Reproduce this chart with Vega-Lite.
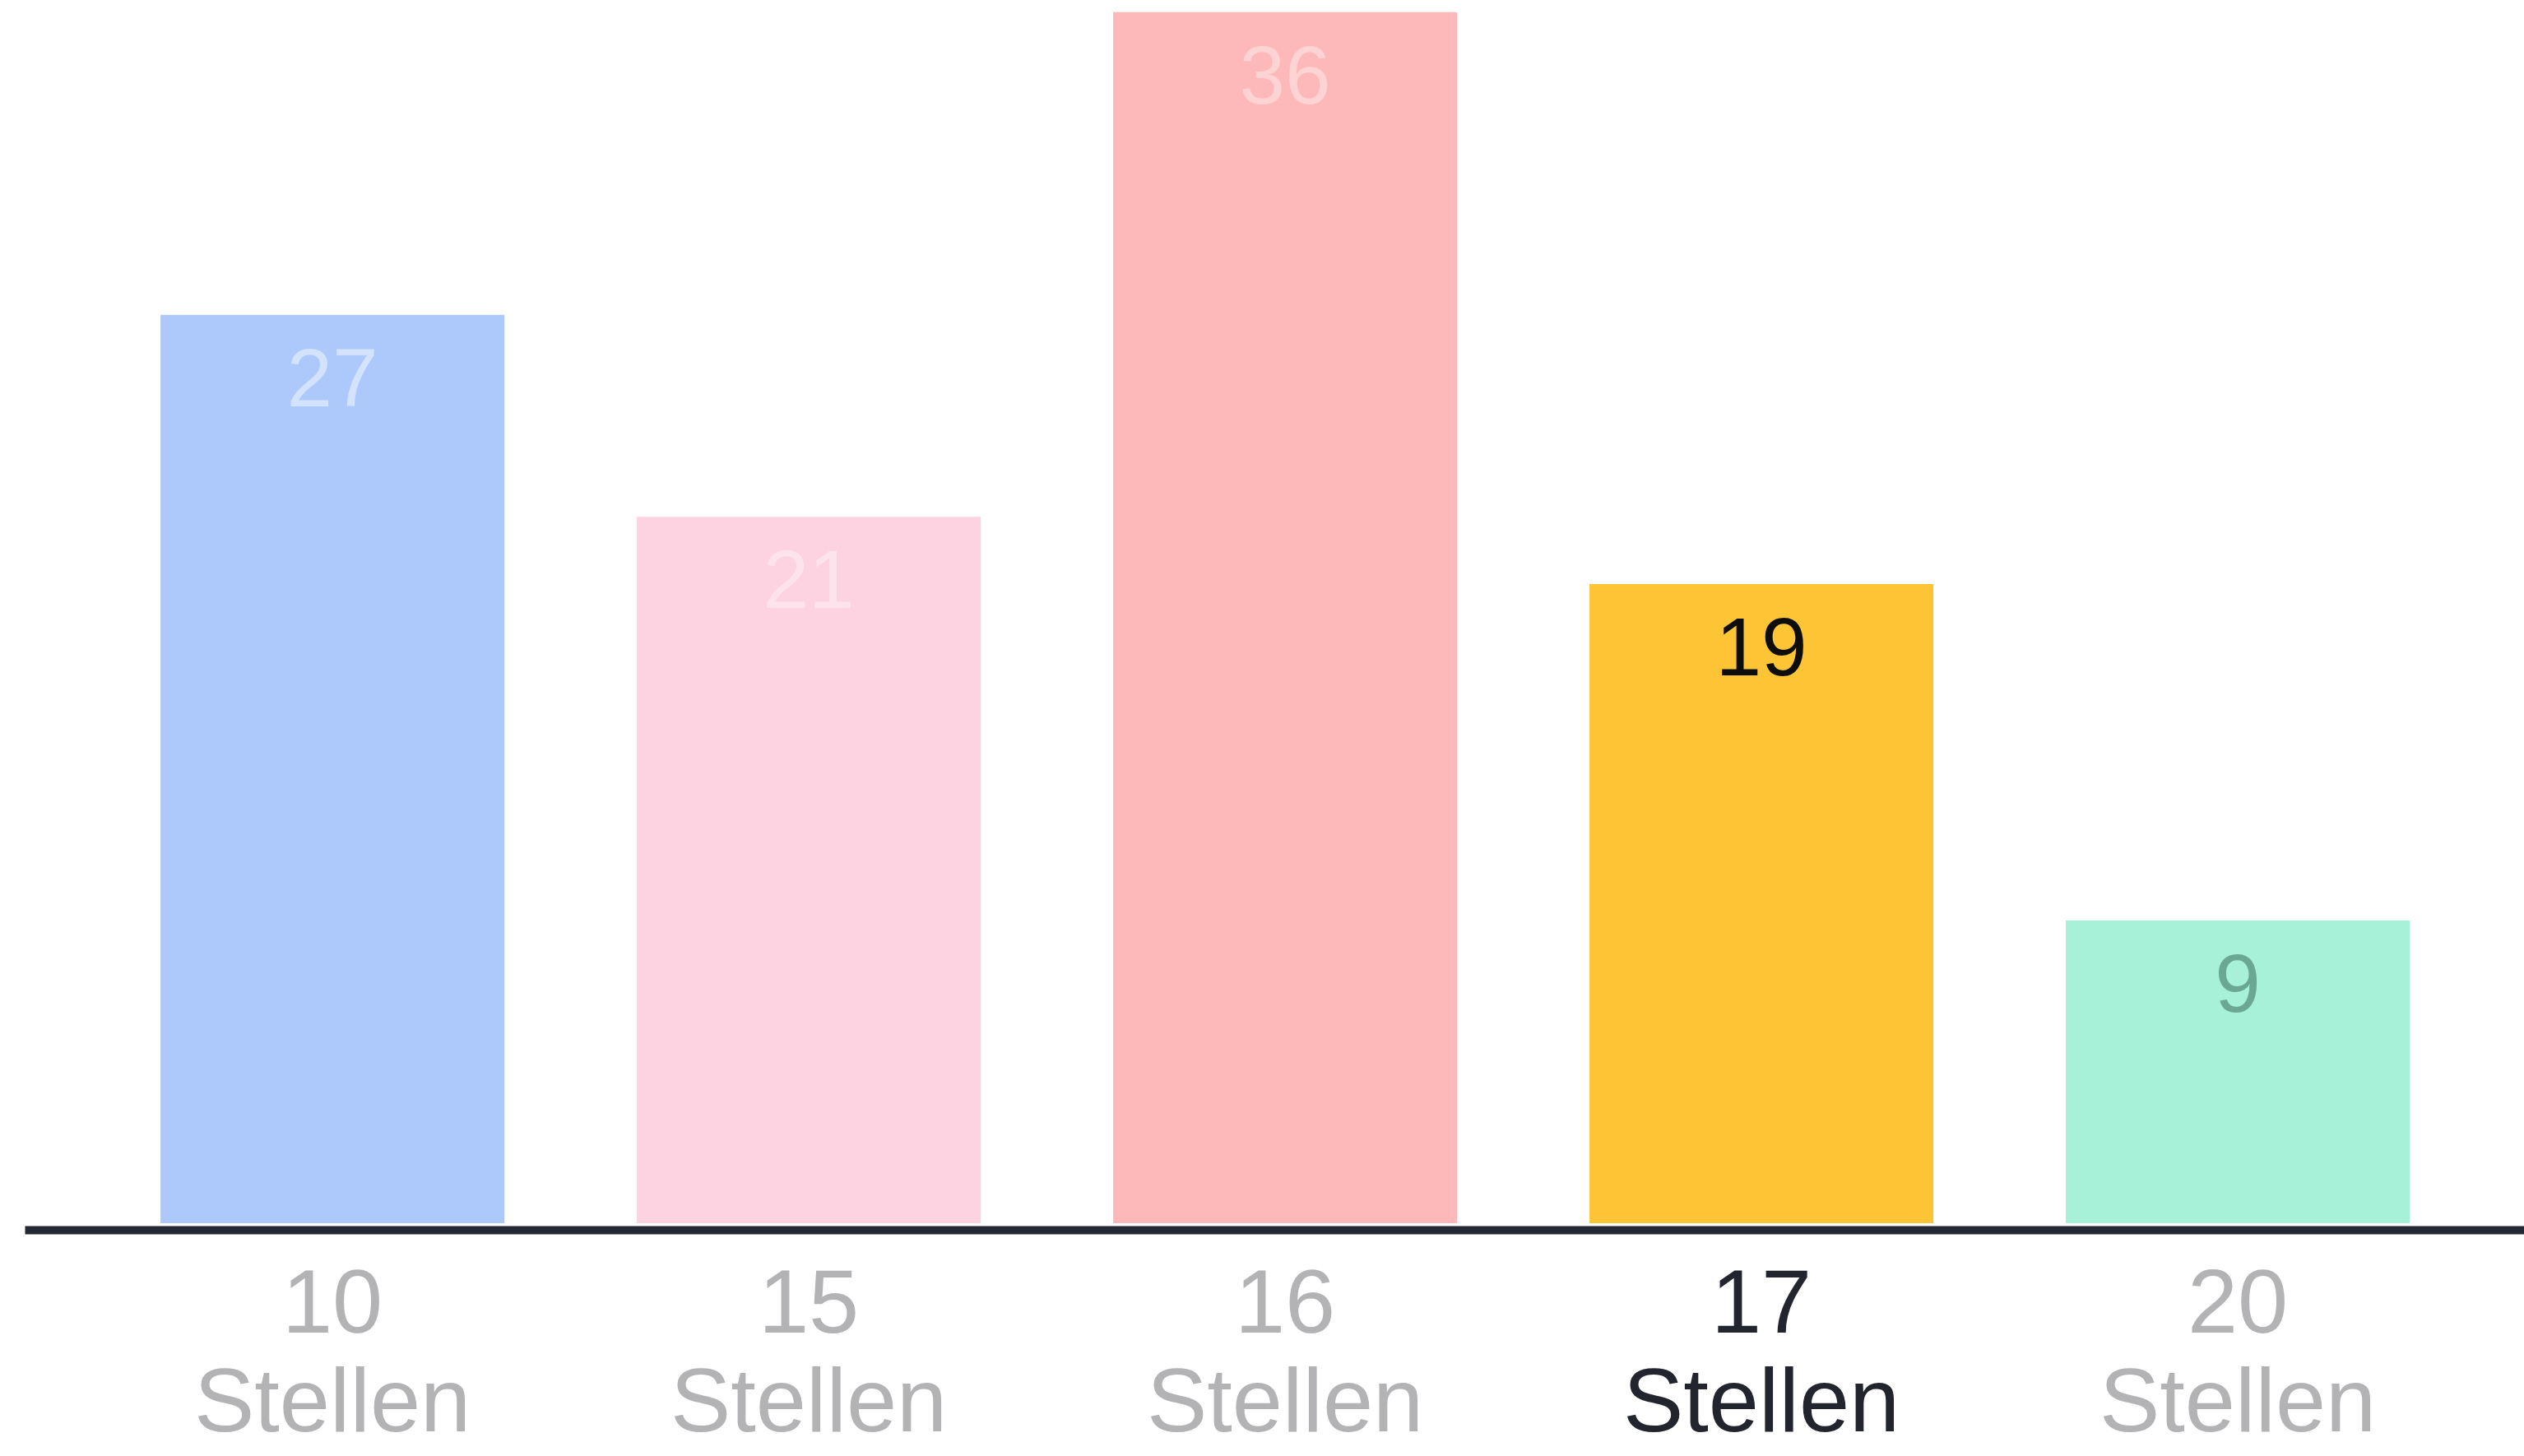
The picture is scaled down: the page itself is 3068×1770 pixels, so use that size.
{
  "$schema": "https://vega.github.io/schema/vega-lite/v6.json",
  "autosize": {"type": "none"},
  "padding": {"left": 30, "top": 0, "right": 0, "bottom": 283},
  "width": 3038,
  "height": 1487,
  "background": "#ffffff",
  "config": {"view": {"stroke": null}, "font": "Liberation Sans"},
  "data": {
    "values": [
      {"kategorie": "10 Stellen", "anzahl": 27},
      {"kategorie": "15 Stellen", "anzahl": 21},
      {"kategorie": "16 Stellen", "anzahl": 36},
      {"kategorie": "17 Stellen", "anzahl": 19},
      {"kategorie": "20 Stellen", "anzahl": 9}
    ]
  },
  "encoding": {
    "x": {
      "field": "kategorie",
      "type": "nominal",
      "sort": null,
      "scale": {"paddingInner": 0.278, "paddingOuter": 0.2625, "align": 0.543},
      "axis": {
        "title": null,
        "labelAngle": 0,
        "ticks": false,
        "grid": false,
        "domain": true,
        "domainColor": "#242833",
        "domainWidth": 10,
        "offset": 8,
        "labelFont": "Liberation Sans",
        "labelFontSize": 110,
        "labelLineHeight": 120,
        "labelBaseline": "alphabetic",
        "labelPadding": 124,
        "labelExpr": "split(datum.label, ' ')",
        "labelColor": {"condition": {"test": "datum.value == '17 Stellen'", "value": "#22252e"}, "value": "#b3b3b6"},
        "labelOverlap": false,
        "labelLimit": 0
      }
    },
    "y": {
      "field": "anzahl",
      "type": "quantitative",
      "scale": {"domain": [0, 36.36], "nice": false, "zero": true},
      "axis": null
    }
  },
  "layer": [
    {
      "mark": {"type": "bar"},
      "encoding": {
        "color": {
          "field": "kategorie",
          "type": "nominal",
          "legend": null,
          "scale": {
            "domain": ["10 Stellen", "15 Stellen", "16 Stellen", "17 Stellen", "20 Stellen"],
            "range": ["#adc9fc", "#fdd2e1", "#fdb9b9", "#fdc536", "#a6f1d8"]
          }
        }
      }
    },
    {
      "mark": {"type": "text", "baseline": "alphabetic", "dy": 111, "fontSize": 100, "font": "Liberation Sans", "align": "center"},
      "encoding": {
        "text": {"field": "anzahl", "type": "quantitative"},
        "color": {
          "field": "kategorie",
          "type": "nominal",
          "legend": null,
          "scale": {
            "domain": ["10 Stellen", "15 Stellen", "16 Stellen", "17 Stellen", "20 Stellen"],
            "range": ["#d3e2fd", "#fde3ec", "#fdd3d3", "#0d0d0d", "#6aa893"]
          }
        }
      }
    }
  ],
  "resolve": {"scale": {"color": "independent"}}
}
